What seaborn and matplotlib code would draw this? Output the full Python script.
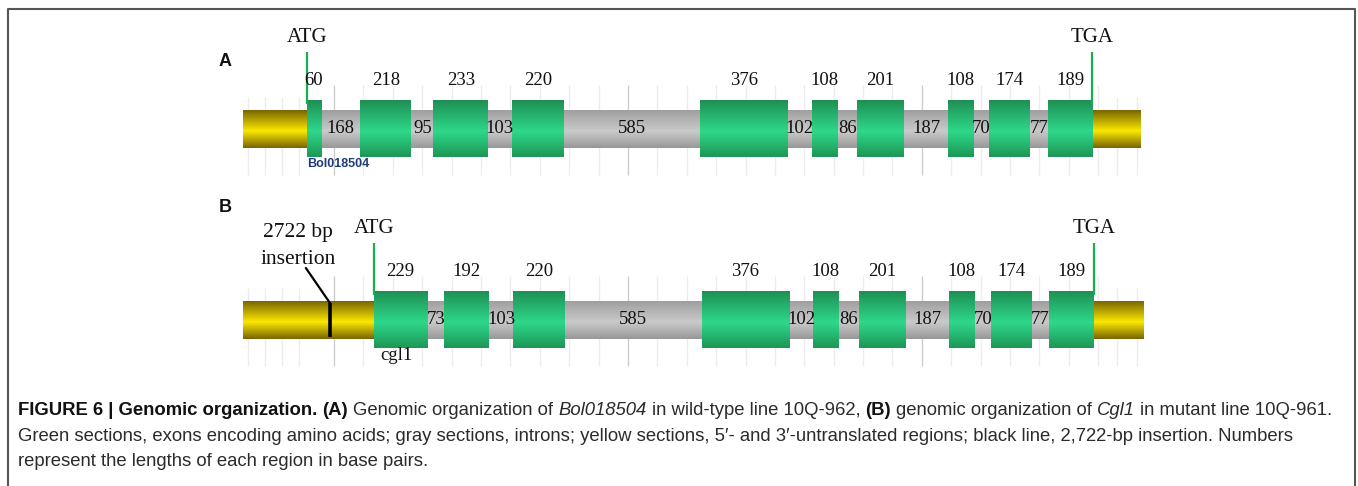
import numpy as np
import pandas as pd
import matplotlib
matplotlib.use("Agg")
import matplotlib.pyplot as plt
import seaborn as sns
from matplotlib.colors import LinearSegmentedColormap
from matplotlib.transforms import IdentityTransform
from matplotlib.lines import Line2D

# ---- gene models (lengths in bp) ----
exons_a = [60, 218, 233, 220, 376, 108, 201, 108, 174, 189]
introns_a = [168, 95, 103, 585, 102, 86, 187, 70, 77]
utr5_a, utr3_a = 274, 206

exons_b = [229, 192, 220, 376, 108, 201, 108, 174, 189]
introns_b = [73, 103, 585, 102, 86, 187, 70, 77]
utr5_b, utr3_b = 560, 210

insertion_b = 372            # insertion site, bp from the 5' end of the UTR
insertion_label = ["2722 bp", "insertion"]

panel_letters = ["A", "B"]
gene_names = ["Bol018504", "cgl1"]
start_codon, stop_codon = "ATG", "TGA"

caption_lines = [
    [("FIGURE 6 | Genomic organization.", "bold", "normal"),
     ("(A)", "bold", "normal"),
     ("Genomic organization of", "normal", "normal"),
     ("Bol018504", "normal", "italic"),
     ("in wild-type line 10Q-962,", "normal", "normal"),
     ("(B)", "bold", "normal"),
     ("genomic organization of", "normal", "normal"),
     ("Cgl1", "normal", "italic"),
     ("in mutant line 10Q-961.", "normal", "normal")],
    [("Green sections, exons encoding amino acids; gray sections, introns; yellow sections, "
      "5\u2032- and 3\u2032-untranslated regions; black line, 2,722-bp insertion. Numbers",
      "normal", "normal")],
    [("represent the lengths of each region in base pairs.", "normal", "normal")],
]


def build_segments(utr5, exons, introns, utr3):
    rows, pos = [("utr", 0, utr5)], utr5
    for i, e in enumerate(exons):
        rows.append(("exon", pos, e))
        pos += e
        if i < len(introns):
            rows.append(("intron", pos, introns[i]))
            pos += introns[i]
    rows.append(("utr", pos, utr3))
    df = pd.DataFrame(rows, columns=["kind", "start", "length"])
    df["mid"] = df["start"] + df["length"] / 2
    return df


tracks = [
    dict(seg=build_segments(utr5_a, exons_a, introns_a, utr3_a), atg=utr5_a,
         stop=utr5_a + sum(exons_a) + sum(introns_a), yc=129, letter_y=66.5, name_dx=0),
    dict(seg=build_segments(utr5_b, exons_b, introns_b, utr3_b), atg=utr5_b,
         stop=utr5_b + sum(exons_b) + sum(introns_b), yc=320, letter_y=211.5, name_dx=26),
]

# ---- styling ----
sns.set_theme(style="white")
plt.rcParams["font.family"] = ["Liberation Serif", "DejaVu Serif"]

W, H, DPI = 1358, 486, 100
PX_PER_BP = 0.2337
LEFT_PX = 243

fig = plt.figure(figsize=(W / DPI, H / DPI), dpi=DPI)
fig.patch.set_facecolor("white")
ax = fig.add_axes([0, 0, 1, 1])
ax.set_xlim(-LEFT_PX / PX_PER_BP, (W - LEFT_PX) / PX_PER_BP)
ax.set_ylim(H, 0)
ax.axis("off")

cmaps = {
    "exon": LinearSegmentedColormap.from_list(
        "exon", [(0, "#1f8f55"), (0.55, "#2ed88a"), (1, "#1d9656")]),
    "intron": LinearSegmentedColormap.from_list(
        "intron", [(0, "#9f9f9f"), (0.55, "#cacaca"), (1, "#989898")]),
    "utr": LinearSegmentedColormap.from_list(
        "utr", [(0, "#7a6600"), (0.55, "#fbe800"), (1, "#786400")]),
}
half = {"exon": 28.5, "intron": 19, "utr": 19}
zord = {"exon": 3, "intron": 2, "utr": 2}
grad = np.linspace(0, 1, 128).reshape(-1, 1)

# background grid
major_step = 1258
minor_step = major_step / 10
grid_origin = 389
utr_grid_left = np.arange(21, 274, 73)
utr_grid_right = np.arange(3740, 3900, 85)

for tr in tracks:
    yc = tr["yc"]
    gene_grid = np.arange(grid_origin, 3665, minor_step)
    for gx in gene_grid:
        k = (gx - grid_origin) / major_step
        is_major = abs(k - round(k)) < 1e-6
        ax.vlines(gx, yc - 44, yc + 46, color="#cdcdcd" if is_major else "#ececec",
                  lw=1.0, zorder=0)
    for gx in np.concatenate([utr_grid_left, utr_grid_right]):
        ax.vlines(gx, yc - 32, yc + 46, color="#ececec", lw=1.0, zorder=0)

    # gene body
    for _, r in tr["seg"].iterrows():
        h = half[r.kind]
        ax.imshow(grad, cmap=cmaps[r.kind], aspect="auto", interpolation="bilinear",
                  extent=(r.start, r.start + r.length, yc + h, yc - h), zorder=zord[r.kind])

    # length labels
    for _, r in tr["seg"].iterrows():
        if r.kind == "exon":
            ax.text(r.mid, yc - 44, f"{r.length}", ha="center", va="baseline",
                    fontsize=13.5, color="#111111", zorder=6)
        elif r.kind == "intron":
            ax.text(r.mid, yc + 3.5, f"{r.length}", ha="center", va="baseline",
                    fontsize=13.5, color="#111111", zorder=6)

    # start / stop codons
    for pos, lab in [(tr["atg"], start_codon), (tr["stop"], stop_codon)]:
        ax.vlines(pos, yc - 77, yc - 25, color="#17b04e", lw=1.6, zorder=5)
        ax.text(pos, yc - 87, lab, ha="center", va="baseline", fontsize=15,
                color="#111111", zorder=6)

ax.set_xlim(-LEFT_PX / PX_PER_BP, (W - LEFT_PX) / PX_PER_BP)
ax.set_ylim(H, 0)

# panel letters
for tr, letter in zip(tracks, panel_letters):
    ax.text(-LEFT_PX / PX_PER_BP + 225 / PX_PER_BP, tr["letter_y"], letter, ha="center",
            va="baseline", fontsize=13, fontweight="bold", family="Liberation Sans",
            color="#111111")

# gene names
ta, tb = tracks
ax.text(ta["atg"] + ta["name_dx"], ta["yc"] + 38, gene_names[0], ha="left", va="baseline",
        fontsize=9, fontweight="bold", family="Liberation Sans", color="#203c78", zorder=6)
ax.text(tb["atg"] + tb["name_dx"], tb["yc"] + 40, gene_names[1], ha="left", va="baseline",
        fontsize=13.5, color="#111111", zorder=6)

# insertion in the mutant 5' region
yb = tb["yc"]
ax.vlines(insertion_b, yb - 17, yb + 17, color="black", lw=2.6, zorder=5)
ax.plot([insertion_b - 103, insertion_b], [yb - 52, yb - 17], color="black", lw=1.6, zorder=5)
ax.text(insertion_b - 137, yb - 83, insertion_label[0], ha="center", va="baseline",
        fontsize=15.5, color="#111111")
ax.text(insertion_b - 137, yb - 56, insertion_label[1], ha="center", va="baseline",
        fontsize=15.5, color="#111111")

# outer frame
fig.add_artist(Line2D([7.5, 7.5, 1354.5, 1354.5], [0, H - 8.5, H - 8.5, 0],
                      transform=IdentityTransform(), color="#555555", lw=1.5))

# caption set as runs of mixed weight / style
renderer = fig.canvas.get_renderer()
cap_size = 13.3
space_px = cap_size * DPI / 72 * 0.278
baselines = [415, 441, 466]
for runs, yb_img in zip(caption_lines, baselines):
    x = 18
    for txt, weight, style in runs:
        t = fig.text(x, H - yb_img, txt, transform=IdentityTransform(), ha="left",
                     va="baseline", fontsize=cap_size, fontweight=weight, fontstyle=style,
                     family=["Liberation Sans", "DejaVu Sans"],
                     color="#111111" if weight == "bold" else "#2b2b2b")
        x += t.get_window_extent(renderer).width + space_px

fig.savefig("out.png", dpi=DPI)
